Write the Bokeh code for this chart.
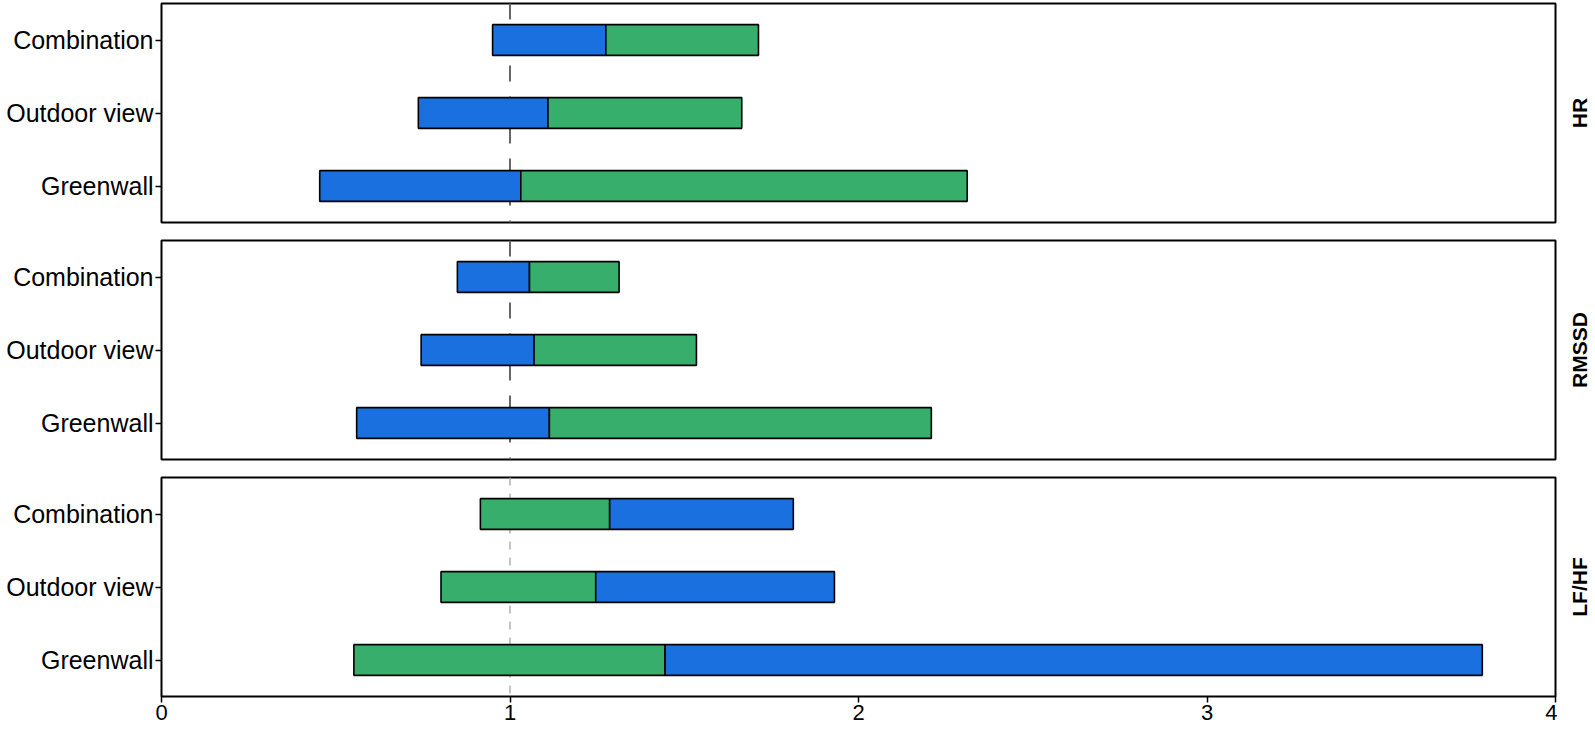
from math import pi
from bokeh.plotting import figure
from bokeh.layouts import column, row
from bokeh.models import FactorRange, Range1d, Span, FixedTicker
from bokeh.core.properties import value
from bokeh.embed import file_html
from bokeh.resources import INLINE

# ---------------- data ----------------
metrics = ["HR", "RMSSD", "LF/HF"]
categories = ["Greenwall", "Outdoor view", "Combination"]   # bottom -> top
x_ticks = [0, 1, 2, 3, 4]

hr_low = [0.454, 0.737, 0.950]
hr_mid = [1.031, 1.109, 1.275]
hr_high = [2.312, 1.665, 1.713]

rmssd_low = [0.560, 0.745, 0.849]
rmssd_mid = [1.113, 1.069, 1.056]
rmssd_high = [2.209, 1.535, 1.313]

lfhf_low = [0.552, 0.802, 0.915]
lfhf_mid = [1.445, 1.246, 1.286]
lfhf_high = [3.790, 1.931, 1.813]

reference_value = 1

BLUE = "#1b70e0"
GREEN = "#38ae6c"
FONT = "Liberation Sans"

panels = [
    (metrics[0], hr_low, hr_mid, hr_high, BLUE, GREEN, dict(line_color="#666666", line_width=2, line_dash="16 15")),
    (metrics[1], rmssd_low, rmssd_mid, rmssd_high, BLUE, GREEN, dict(line_color="#666666", line_width=2, line_dash="16 15")),
    (metrics[2], lfhf_low, lfhf_mid, lfhf_high, GREEN, BLUE, dict(line_color="#b0b0b0", line_width=1.5, line_dash="8 8")),
]

FRAME_H = 219
rows = []
for i, (name, low, mid, high, c1, c2, vstyle) in enumerate(panels):
    last = i == len(panels) - 1
    top = 3 if i == 0 else 9
    bottom = 9 if not last else 32
    p = figure(
        y_range=FactorRange(factors=categories),
        x_range=Range1d(0, 4),
        frame_width=1394, frame_height=FRAME_H,
        min_border_left=161, min_border_right=2,
        min_border_top=top, min_border_bottom=bottom,
        output_backend="svg", toolbar_location=None,
        x_axis_location="below" if last else None,
    )
    p.background_fill_color = "white"
    p.border_fill_color = "white"
    p.grid.visible = False
    p.outline_line_color = "black"
    p.outline_line_width = 2

    span = Span(location=reference_value, dimension="height", level="underlay", **vstyle)
    p.add_layout(span)

    p.hbar(y=categories, left=low, right=mid, height=0.42,
           fill_color=c1, line_color="black", line_width=1.6)
    p.hbar(y=categories, left=mid, right=high, height=0.42,
           fill_color=c2, line_color="black", line_width=1.6)

    ya = p.yaxis[0]
    ya.axis_line_color = None
    ya.major_tick_line_color = "black"
    ya.major_tick_line_width = 1.5
    ya.major_tick_out = 6
    ya.major_tick_in = 0
    ya.major_label_text_font = FONT
    ya.major_label_text_font_size = "25px"
    ya.major_label_text_color = "black"
    ya.major_label_standoff = 2

    if last:
        xa = p.xaxis[0]
        xa.ticker = FixedTicker(ticks=x_ticks)
        xa.axis_line_color = None
        xa.minor_tick_line_color = None
        xa.major_tick_line_color = "black"
        xa.major_tick_line_width = 1.5
        xa.major_tick_out = 6
        xa.major_tick_in = 0
        xa.major_label_text_font = FONT
        xa.major_label_text_font_size = "22px"
        xa.major_label_text_color = "black"
        xa.major_label_standoff = 2

    # strip label panel on the right
    s = figure(
        x_range=Range1d(0, 1), y_range=Range1d(0, 1),
        frame_width=36, frame_height=FRAME_H,
        min_border_left=0, min_border_right=0,
        min_border_top=top, min_border_bottom=bottom,
        output_backend="svg", toolbar_location=None,
        x_axis_location=None, y_axis_location=None,
    )
    s.grid.visible = False
    s.outline_line_color = None
    s.background_fill_color = "white"
    s.border_fill_color = "white"
    s.text(x=[0.6], y=[0.5], text=[name], angle=pi / 2,
           text_font=value(FONT), text_font_size="21px", text_font_style="bold",
           text_align="center", text_baseline="middle", text_color="black")
    rows.append(row(p, s, spacing=0))

layout = column(*rows, spacing=0)
open("out.html", "w").write(file_html(layout, INLINE))
